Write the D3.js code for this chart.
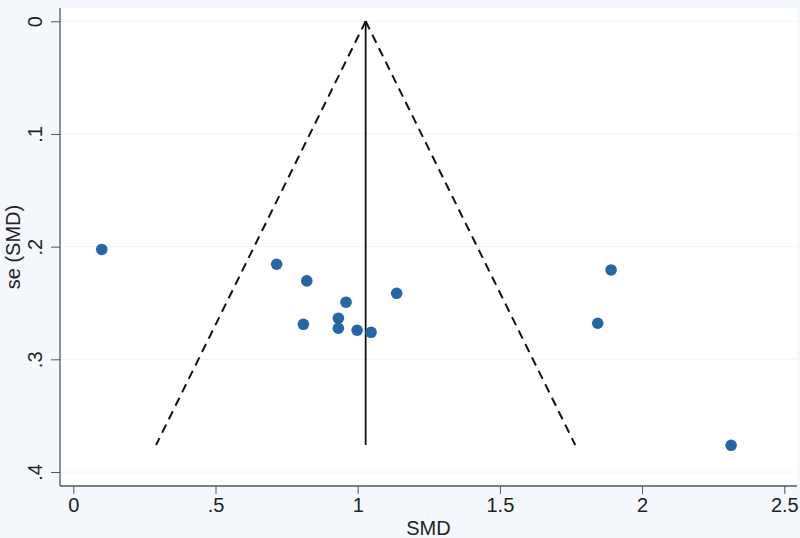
<!DOCTYPE html>
<html><head><meta charset="utf-8">
<script src="https://cdn.jsdelivr.net/npm/d3@7"></script>
<style>html,body{margin:0;padding:0;background:#f5f9fd;}svg{display:block;}</style>
</head><body>
<svg id="c" width="800" height="538"></svg>
<script>
const smd = [0.10, 0.715, 0.821, 0.959, 0.932, 0.932, 0.809, 0.998, 1.047, 1.137, 1.844, 1.891, 2.313];
const se  = [0.2025, 0.2156, 0.2304, 0.2493, 0.2635, 0.2724, 0.2689, 0.2742, 0.2760, 0.2414, 0.268, 0.2207, 0.3763];
const pooled = 1.028;
const seMax = 0.376;
const xTicks = [0, 0.5, 1, 1.5, 2, 2.5];
const xTickLabels = ["0", ".5", "1", "1.5", "2", "2.5"];
const yTicks = [0, 0.1, 0.2, 0.3, 0.4];
const yTickLabels = ["0", ".1", ".2", ".3", ".4"];

const svg = d3.select("#c");
const W = 800, H = 538;
const plot = {l: 60, t: 8, r: 797, b: 486};
const x = d3.scaleLinear().domain([0, 2.5]).range([73.3, 784.3]);
const y = d3.scaleLinear().domain([0, 0.4]).range([21.3, 472]);

svg.append("rect").attr("width", W).attr("height", H).attr("fill", "#f5f9fd");
svg.append("rect").attr("x", plot.l).attr("y", plot.t).attr("width", plot.r - plot.l).attr("height", plot.b - plot.t).attr("fill", "#ffffff");

// faint gridlines
svg.append("g").selectAll("line").data(yTicks).join("line")
  .attr("x1", plot.l).attr("x2", plot.r)
  .attr("y1", d => y(d)).attr("y2", d => y(d))
  .attr("stroke", "#f1f4f8").attr("stroke-width", 1);

// axes
const xAxis = d3.axisBottom(x).tickValues(xTicks).tickFormat((d, i) => xTickLabels[i]).tickSize(8).tickPadding(4);
const gx = svg.append("g").attr("transform", `translate(0,${plot.b})`).call(xAxis);
gx.select(".domain").attr("d", `M${plot.l},0H${plot.r}`);
gx.selectAll("line").attr("stroke", "#555");
gx.select(".domain").attr("stroke", "#555").attr("stroke-width", 1.3);
gx.selectAll("text").attr("font-family", "Liberation Sans, Arial, sans-serif").attr("font-size", 20).attr("fill", "#222");

const yAxis = d3.axisLeft(y).tickValues(yTicks).tickFormat((d, i) => yTickLabels[i]).tickSize(9);
const gy = svg.append("g").attr("transform", `translate(${plot.l},0)`).call(yAxis);
gy.select(".domain").attr("d", `M0,${plot.t}V${plot.b}`).attr("stroke", "#555").attr("stroke-width", 1.3);
gy.selectAll("line").attr("stroke", "#555");
gy.selectAll("text")
  .attr("font-family", "Liberation Sans, Arial, sans-serif").attr("font-size", 20).attr("fill", "#222")
  .attr("x", null).attr("dy", null).attr("y", null)
  .attr("text-anchor", "middle")
  .attr("transform", "translate(-18,0) rotate(-90)");

// axis titles
svg.append("text").attr("x", (plot.l + plot.r) / 2).attr("y", 535)
  .attr("text-anchor", "middle").attr("font-family", "Liberation Sans, Arial, sans-serif")
  .attr("font-size", 20).attr("fill", "#222").text("SMD");
svg.append("text").attr("transform", `translate(20,${(plot.t + plot.b) / 2}) rotate(-90)`)
  .attr("text-anchor", "middle").attr("font-family", "Liberation Sans, Arial, sans-serif")
  .attr("font-size", 20).attr("fill", "#222").text("se (SMD)");

// funnel
const funnel = [[pooled - 1.96 * seMax, seMax], [pooled, 0], [pooled + 1.96 * seMax, seMax]];
const line = d3.line().x(d => x(d[0])).y(d => y(d[1]));
svg.append("path").attr("d", line([funnel[1], funnel[0]]))
  .attr("fill", "none").attr("stroke", "#111").attr("stroke-width", 2).attr("stroke-dasharray", "9,6");
svg.append("path").attr("d", line([funnel[1], funnel[2]]))
  .attr("fill", "none").attr("stroke", "#111").attr("stroke-width", 2).attr("stroke-dasharray", "9,6");
svg.append("line")
  .attr("x1", x(pooled)).attr("x2", x(pooled)).attr("y1", y(0)).attr("y2", y(seMax))
  .attr("stroke", "#111").attr("stroke-width", 1.8);

// points
svg.append("g").selectAll("circle").data(smd.map((d, i) => [d, se[i]])).join("circle")
  .attr("cx", d => x(d[0])).attr("cy", d => y(d[1])).attr("r", 5.8)
  .attr("fill", "#2566a6");
</script>
</body></html>
